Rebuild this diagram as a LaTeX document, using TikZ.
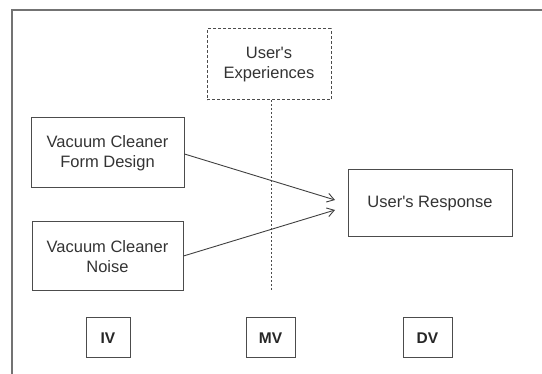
\documentclass[tikz,border=0pt]{standalone}
\usepackage{fontspec}
\setmainfont{Liberation Sans}
\usetikzlibrary{arrows.meta}
\begin{document}
\begin{tikzpicture}[x=1pt,y=-1pt,
  box/.style={draw=black!70,line width=1pt,inner sep=0pt,align=center,font=\fontsize{16.5}{20}\selectfont,text=black!80},
  dbox/.style={box,dashed,dash pattern=on 3pt off 2pt},
  tag/.style={draw=black!70,line width=1pt,inner sep=0pt,font=\fontsize{15.5}{18}\selectfont\bfseries,text=black!85},
  conn/.style={draw=black!75,line width=0.9pt,-{Straight Barb[length=7pt,width=9pt]}},
  frame/.style={draw=black!55,line width=1.5pt}]
\useasboundingbox (0,0) rectangle (542,374);
\draw[frame] (12,374) -- (12,10) -- (542,10);
\node[dbox,minimum width=124pt,minimum height=71pt] (ux) at (269,64.5) {User\textquotesingle s\\Experiences};
\node[box,minimum width=153pt,minimum height=70pt] (fd) at (107.5,153) {Vacuum Cleaner\\Form Design};
\node[box,minimum width=151pt,minimum height=69pt] (ns) at (107.5,256.5) {Vacuum Cleaner\\Noise};
\node[box,minimum width=164pt,minimum height=67pt] (ur) at (430,203.5) {User\textquotesingle s Response};
\coordinate (mvend) at (271,292);
\draw[draw=black!70,line width=1pt,dash pattern=on 2pt off 2pt] (ux.south -| mvend) -- (mvend);
\coordinate (a1) at (335,200);
\coordinate (a2) at (335,210);
\draw[conn] (fd.east |- 0,154) -- (a1);
\draw[conn] (ns.east |- 0,256) -- (a2);
\node[tag,minimum width=44pt,minimum height=40pt] (iv) at (108,338) {IV};
\node[tag,minimum width=49pt,minimum height=40pt] (mv) at (270.5,338) {MV};
\node[tag,minimum width=49pt,minimum height=40pt] (dv) at (427.5,338) {DV};
\end{tikzpicture}
\end{document}
